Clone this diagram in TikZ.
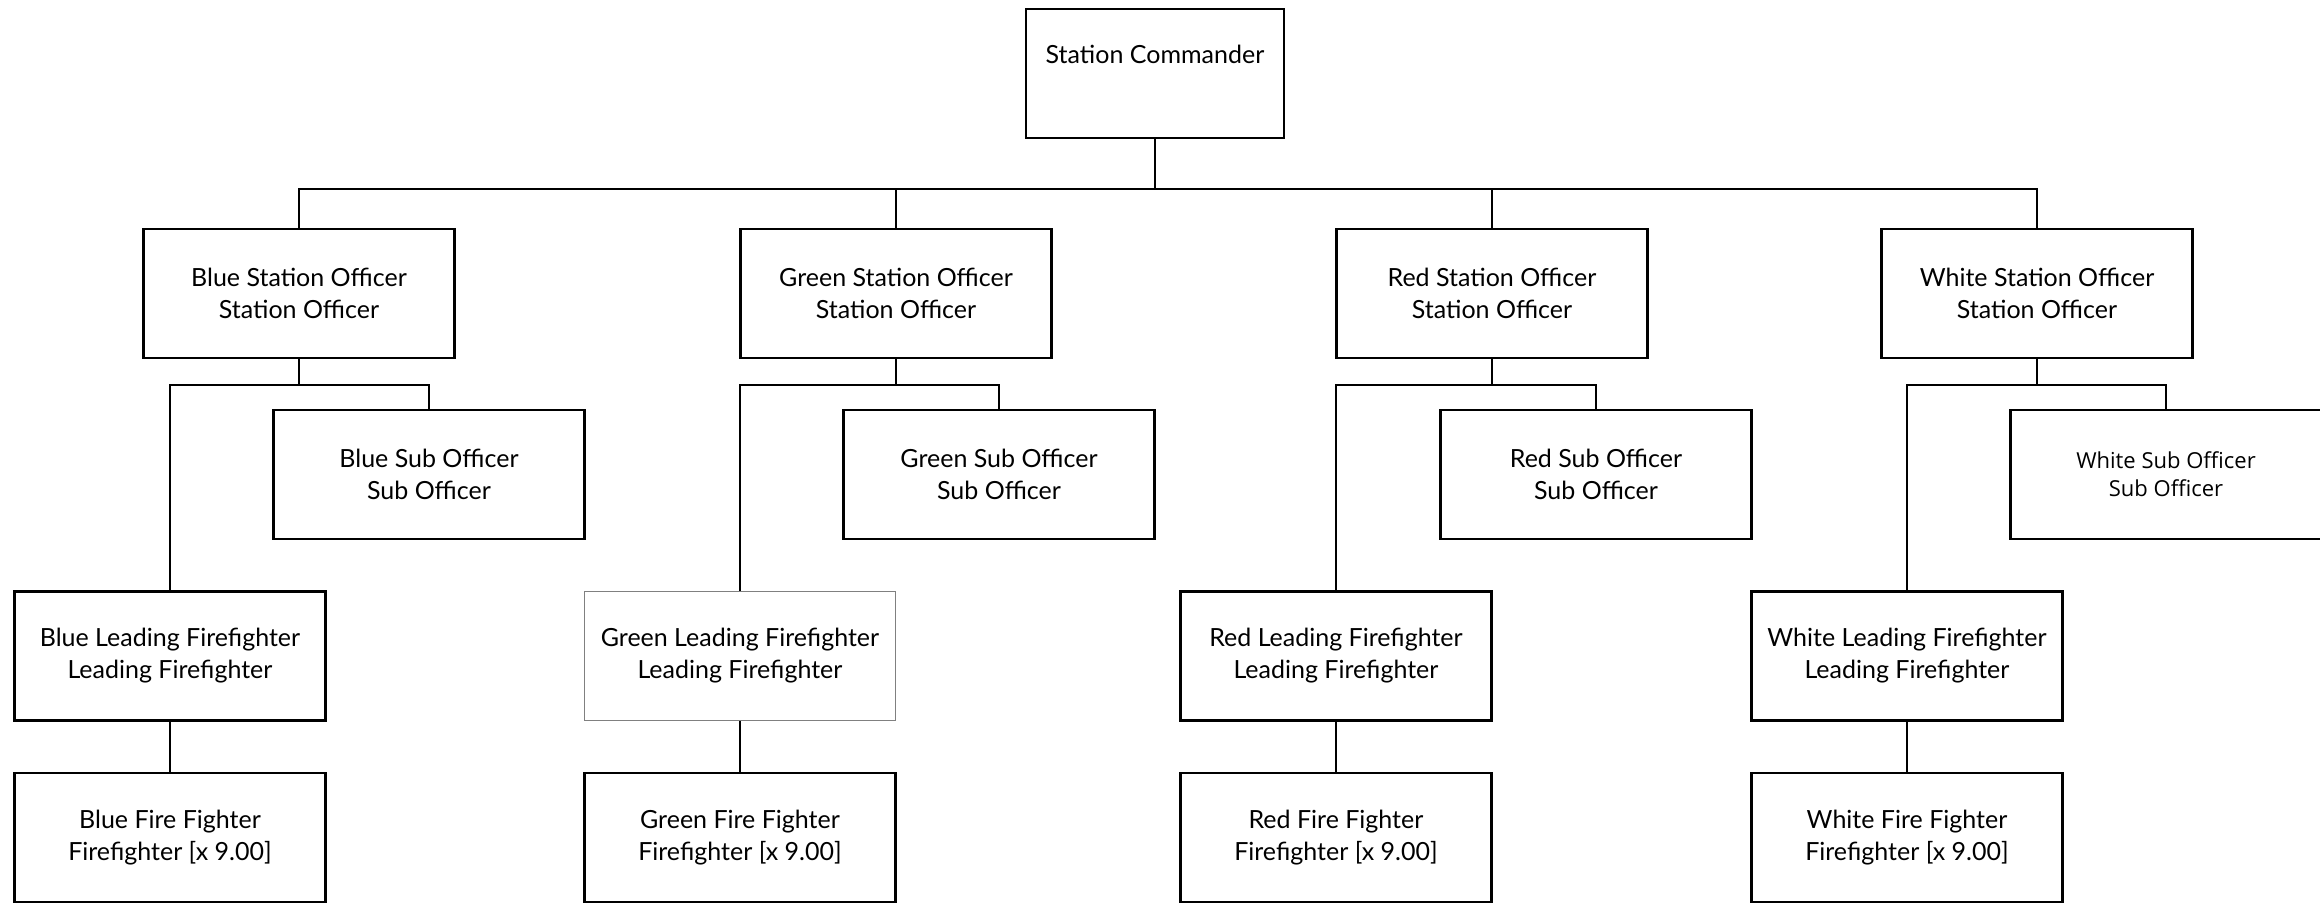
\documentclass[tikz,border=0pt]{standalone}
\usepackage{fontspec}
\setmainfont{Lato}
\newfontfamily\subfont{Open Sans}
\tikzset{
  box/.style={draw, line width=1.1pt, minimum width=155.5pt, minimum height=64.5pt,
    inner sep=0pt, align=center, font=\fontsize{12.5}{16}\selectfont},
  faint/.style={draw=black!50, line width=0.5pt},
  wire/.style={line width=0.9pt}
}
\begin{document}
\begin{tikzpicture}[x=0.5pt,y=-0.5pt]
        \useasboundingbox (0,0) rectangle (2320,903);
        % top
        \node[box, minimum width=129pt] (cmd) at (1155,73.5) {Station Commander\\[3pt] \mbox{}};
        \coordinate (bus) at (1155,189);
        % station officers
        \node[box] (blueSO) at (299,293.5) {Blue Station Officer\\Station Officer};
        \node[box] (greenSO) at (896,293.5) {Green Station Officer\\Station Officer};
        \node[box] (redSO) at (1492,293.5) {Red Station Officer\\Station Officer};
        \node[box] (whiteSO) at (2037,293.5) {White Station Officer\\Station Officer};
        % sub officers
        \node[box] (blueSub) at (429,474.5) {Blue Sub Officer\\Sub Officer};
        \node[box] (greenSub) at (999,474.5) {Green Sub Officer\\Sub Officer};
        \node[box] (redSub) at (1596,474.5) {Red Sub Officer\\Sub Officer};
        \node[box, font=\subfont\fontsize{11}{14}\selectfont] (whiteSub) at (2166,474.5) {White Sub Officer\\Sub Officer};
        % leading firefighters
        \node[box] (blueLF) at (170,656) {Blue Leading Firefighter\\Leading Firefighter};
        \node[box, faint] (greenLF) at (740,656) {Green Leading Firefighter\\Leading Firefighter};
        \node[box] (redLF) at (1336,656) {Red Leading Firefighter\\Leading Firefighter};
        \node[box] (whiteLF) at (1907,656) {White Leading Firefighter\\Leading Firefighter};
        % fire fighters
        \node[box] (blueFF) at (170,837.5) {Blue Fire Fighter\\Firefighter [x 9.00]};
        \node[box] (greenFF) at (740,837.5) {Green Fire Fighter\\Firefighter [x 9.00]};
        \node[box] (redFF) at (1336,837.5) {Red Fire Fighter\\Firefighter [x 9.00]};
        \node[box] (whiteFF) at (1907,837.5) {White Fire Fighter\\Firefighter [x 9.00]};
        % connectors
        \draw[wire] (cmd.south) -- (bus);
        \draw[wire] (blueSO.north) |- (bus) -| (whiteSO.north);
        \draw[wire] (greenSO.north) -- (greenSO.north |- bus);
        \draw[wire] (redSO.north) -- (redSO.north |- bus);
        \draw[wire] (blueSO.south) -- ++(0,26);
        \draw[wire] (blueLF.north) |- ([yshift=-13pt]blueSO.south) -| (blueSub.north);
        \draw[wire] (greenSO.south) -- ++(0,26);
        \draw[wire] (greenLF.north) |- ([yshift=-13pt]greenSO.south) -| (greenSub.north);
        \draw[wire] (redSO.south) -- ++(0,26);
        \draw[wire] (redLF.north) |- ([yshift=-13pt]redSO.south) -| (redSub.north);
        \draw[wire] (whiteSO.south) -- ++(0,26);
        \draw[wire] (whiteLF.north) |- ([yshift=-13pt]whiteSO.south) -| (whiteSub.north);
        \draw[wire] (blueLF) -- (blueFF);
        \draw[wire] (greenLF) -- (greenFF);
        \draw[wire] (redLF) -- (redFF);
        \draw[wire] (whiteLF) -- (whiteFF);
\end{tikzpicture}
\end{document}
